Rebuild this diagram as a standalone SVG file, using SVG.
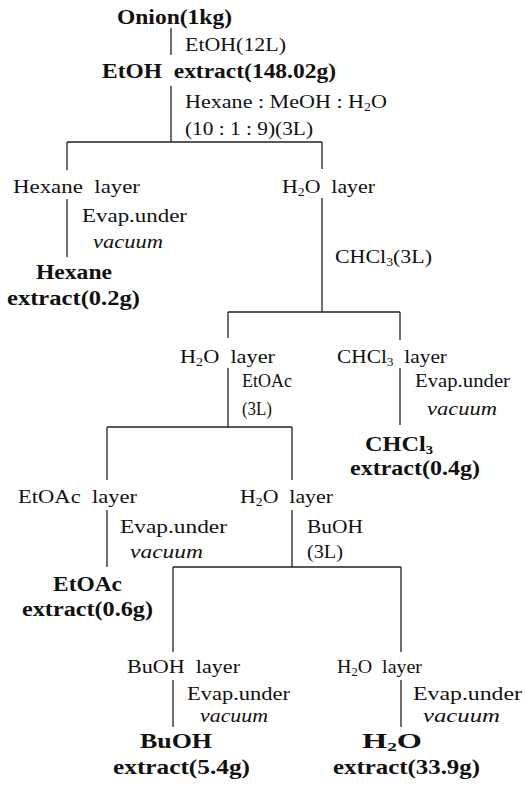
<svg xmlns="http://www.w3.org/2000/svg" width="525" height="790" viewBox="0 0 525 790">
<style>
text{font-family:"Liberation Serif","Times New Roman",serif;font-size:19px;fill:#111}
.b{font-weight:bold;font-size:20px}
.i{font-style:italic}
.sub{font-size:12px}
.ln{stroke:#222;stroke-width:1.3;fill:none}
</style>
<rect width="525" height="790" fill="#fff"/>
<g id="connectors">
<path class="ln" d="M171 28V55M171 86V142M67 142H322M67 142V170M322 142V169M67 199V257M322 198V312M228 312H400M228 312V338M400 312V340M228 368V427M400 368V425M107 427H292M107 427V480M292 427V480M107 510V567M292 510V567M173 567H401M173 567V652M401 567V652M173 680V727M401 680V727"/>
<text x="185" y="51" textLength="101" lengthAdjust="spacingAndGlyphs">EtOH(12L)</text>
<text x="185" y="108" textLength="202" lengthAdjust="spacingAndGlyphs">Hexane : MeOH : H<tspan class="sub" dy="3">2</tspan><tspan dy="-3">O</tspan></text>
<text x="185" y="135" textLength="128" lengthAdjust="spacingAndGlyphs">(10 : 1 : 9)(3L)</text>
<text x="82" y="222" textLength="105" lengthAdjust="spacingAndGlyphs">Evap.under</text>
<text class="i" x="93" y="248" textLength="70" lengthAdjust="spacingAndGlyphs">vacuum</text>
<text x="335" y="263" textLength="97" lengthAdjust="spacingAndGlyphs">CHCl<tspan class="sub" dy="3">3</tspan><tspan dy="-3">(3L)</tspan></text>
<text x="242" y="387" textLength="50" lengthAdjust="spacingAndGlyphs">EtOAc</text>
<text x="242" y="415" textLength="30" lengthAdjust="spacingAndGlyphs">(3L)</text>
<text x="415" y="387" textLength="95" lengthAdjust="spacingAndGlyphs">Evap.under</text>
<text class="i" x="427" y="415" textLength="70" lengthAdjust="spacingAndGlyphs">vacuum</text>
<text x="120" y="533" textLength="107" lengthAdjust="spacingAndGlyphs">Evap.under</text>
<text class="i" x="130" y="558" textLength="73" lengthAdjust="spacingAndGlyphs">vacuum</text>
<text x="307" y="533" textLength="56" lengthAdjust="spacingAndGlyphs">BuOH</text>
<text x="307" y="558" textLength="36" lengthAdjust="spacingAndGlyphs">(3L)</text>
<text x="187" y="700" textLength="103" lengthAdjust="spacingAndGlyphs">Evap.under</text>
<text class="i" x="200" y="722" textLength="68" lengthAdjust="spacingAndGlyphs">vacuum</text>
<text x="413" y="700" textLength="109" lengthAdjust="spacingAndGlyphs">Evap.under</text>
<text class="i" x="423" y="722" textLength="77" lengthAdjust="spacingAndGlyphs">vacuum</text>
</g>
<g id="onion"><text class="b" x="117" y="24" textLength="115" lengthAdjust="spacingAndGlyphs">Onion(1kg)</text></g>
<g id="etoh-extract"><text class="b" x="102" y="78" textLength="234" lengthAdjust="spacingAndGlyphs" xml:space="preserve">EtOH  extract(148.02g)</text></g>
<g id="hexane-layer"><text x="13" y="193" textLength="127" lengthAdjust="spacingAndGlyphs" xml:space="preserve">Hexane  layer</text></g>
<g id="h2o-layer-1"><text x="282" y="193" textLength="93" lengthAdjust="spacingAndGlyphs" xml:space="preserve">H<tspan class="sub" dy="3">2</tspan><tspan dy="-3">O  layer</tspan></text></g>
<g id="hexane-extract"><text class="b" x="36" y="279" textLength="76" lengthAdjust="spacingAndGlyphs">Hexane</text><text class="b" x="7" y="305" textLength="133" lengthAdjust="spacingAndGlyphs">extract(0.2g)</text></g>
<g id="h2o-layer-2"><text x="180" y="363" textLength="95" lengthAdjust="spacingAndGlyphs" xml:space="preserve">H<tspan class="sub" dy="3">2</tspan><tspan dy="-3">O  layer</tspan></text></g>
<g id="chcl3-layer"><text x="337" y="363" textLength="110" lengthAdjust="spacingAndGlyphs" xml:space="preserve">CHCl<tspan class="sub" dy="3">3</tspan><tspan dy="-3">  layer</tspan></text></g>
<g id="chcl3-extract"><text class="b" x="365" y="451" textLength="68" lengthAdjust="spacingAndGlyphs">CHCl<tspan class="sub" dy="3">3</tspan></text><text class="b" x="350" y="475" textLength="130" lengthAdjust="spacingAndGlyphs">extract(0.4g)</text></g>
<g id="etoac-layer"><text x="18" y="503" textLength="119" lengthAdjust="spacingAndGlyphs" xml:space="preserve">EtOAc  layer</text></g>
<g id="h2o-layer-3"><text x="240" y="503" textLength="93" lengthAdjust="spacingAndGlyphs" xml:space="preserve">H<tspan class="sub" dy="3">2</tspan><tspan dy="-3">O  layer</tspan></text></g>
<g id="etoac-extract"><text class="b" x="53" y="591" textLength="69" lengthAdjust="spacingAndGlyphs">EtOAc</text><text class="b" x="22" y="616" textLength="131" lengthAdjust="spacingAndGlyphs">extract(0.6g)</text></g>
<g id="buoh-layer"><text x="127" y="673" textLength="113" lengthAdjust="spacingAndGlyphs" xml:space="preserve">BuOH  layer</text></g>
<g id="h2o-layer-4"><text x="337" y="673" textLength="85" lengthAdjust="spacingAndGlyphs" xml:space="preserve">H<tspan class="sub" dy="3">2</tspan><tspan dy="-3">O  layer</tspan></text></g>
<g id="buoh-extract"><text class="b" x="140" y="748" textLength="72" lengthAdjust="spacingAndGlyphs">BuOH</text><text class="b" x="113" y="774" textLength="137" lengthAdjust="spacingAndGlyphs">extract(5.4g)</text></g>
<g id="h2o-extract"><text class="b" x="362" y="748" textLength="60" lengthAdjust="spacingAndGlyphs">H<tspan class="sub" dy="3">2</tspan><tspan dy="-3">O</tspan></text><text class="b" x="333" y="774" textLength="147" lengthAdjust="spacingAndGlyphs">extract(33.9g)</text></g>
</svg>
